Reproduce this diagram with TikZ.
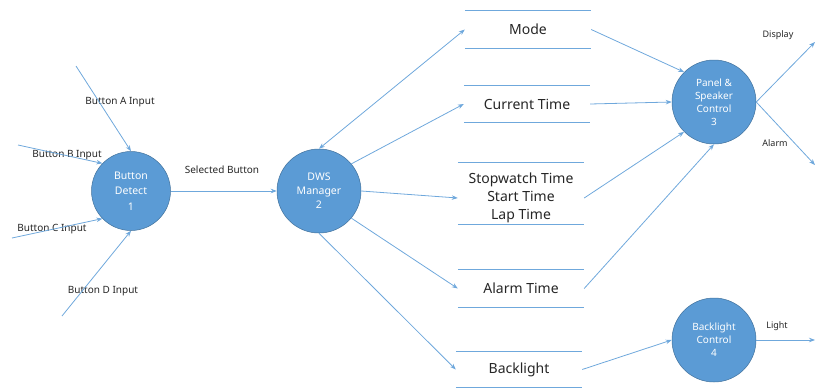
\documentclass[tikz,border=0pt]{standalone}
\usepackage{fontspec}
\setmainfont{Noto Sans}
\usepackage{tikz}
\usetikzlibrary{arrows.meta,positioning}
\definecolor{dfdblue}{HTML}{5B9BD5}
\definecolor{dfdrim}{HTML}{41719C}
\definecolor{dfdline}{HTML}{6FA8DC}

\begin{document}
\begin{tikzpicture}[x=1pt, y=-1pt, >={Stealth[length=6pt,width=4.5pt]}]
   \useasboundingbox (0,0) rectangle (815,389);
   % free ends of the flows
   \coordinate (inA) at (76,66);
   \coordinate (inB) at (18,145);
   \coordinate (inC) at (12,238);
   \coordinate (inD) at (62,316);
   \coordinate (outDisp) at (815,42);
   \coordinate (outAlarm) at (815,165);
   \coordinate (outLight) at (815,340);
   % processes
   \begin{scope}[every node/.style={circle,fill=dfdblue,draw=dfdrim,line width=0.5pt,text=white,align=center,inner sep=0pt,font=\fontsize{10}{13}\selectfont}]
    \node[minimum size=79pt,font=\fontsize{10.5}{15.5}\selectfont] (detect) at (131,191) {Button\\Detect\\1};
    \node[minimum size=84pt,font=\fontsize{10.5}{14}\selectfont] (dws) at (319,191) {DWS\\Manager\\2};
    \node[minimum size=84pt] (panel) at (714,102) {Panel \&\\Speaker\\Control\\3};
    \node[minimum size=84pt] (blc) at (714,340) {Backlight\\Control\\4};
   \end{scope}
   % data stores
   \begin{scope}[every node/.style={minimum width=126pt,inner sep=0pt,align=center,text=black!85,font=\fontsize{14}{18}\selectfont}]
    \node[minimum height=37pt] (mode) at (528,29.5) {Mode};
    \node[minimum height=37pt] (cur) at (527,104) {Current Time};
    \node[minimum height=61pt] (stop) at (521,198) {Stopwatch Time\\Start Time\\Lap Time};
    \node[minimum height=37pt] (alarm) at (521,288.5) {Alarm Time};
    \node[minimum height=35pt] (blt) at (519,369.5) {Backlight};
   \end{scope}
   \foreach \s in {mode,cur,alarm,blt} {
    \draw[dfdline, line width=0.8pt] (\s.north west) -- (\s.north east);
    \draw[dfdline, line width=0.8pt] (\s.south west) -- (\s.south east);
   }
   \draw[dfdline, line width=0.8pt] ([yshift=4.5pt]stop.north west) -- ([yshift=4.5pt]stop.north east);
   \draw[dfdline, line width=0.8pt] ([yshift=4.5pt]stop.south west) -- ([yshift=4.5pt]stop.south east);
   % flow labels
   \begin{scope}[every node/.style={text=black!85,font=\fontsize{10}{12}\selectfont}]
    \node (labA) at (120,102) {Button A Input};
    \node (labB) at (67,155) {Button B Input};
    \node (labC) at (52,229) {Button C Input};
    \node (labD) at (103,291) {Button D Input};
    \node (labSel) at (222,170) {Selected Button};
    \node[font=\fontsize{9}{11}\selectfont] (labDisp) at (778,35) {Display};
    \node[font=\fontsize{9}{11}\selectfont] (labAlarm) at (775,143) {Alarm};
    \node[font=\fontsize{9}{11}\selectfont] (labLight) at (777,326) {Light};
   \end{scope}
   \begin{scope}[every edge/.style={draw=dfdline,line width=0.8pt}]
    \draw (inA) edge[->] (detect.90);
    \draw (inB) edge[->] (detect.136);
    \draw (inC) edge[->] (detect.224);
    \draw (inD) edge[->] (detect.270);
    \draw (detect) edge[->] (dws);
    \draw (dws.90) edge[<->] (mode.west);
    \draw (dws.40) edge[->] (cur.west);
    \draw (dws.0) edge[->] (stop.west);
    \draw (dws.-40) edge[->] (alarm.west);
    \draw (dws.-90) edge[->] (blt.west);
    \draw (mode.east) edge[->] (panel.135);
    \draw (cur.east) edge[->] (panel.180);
    \draw (stop.east) edge[->] (panel.225);
    \draw (alarm.east) edge[->] (panel.270);
    \draw (blt.east) edge[->] (blc.180);
    \draw (panel.east) edge[->] (outDisp);
    \draw (panel.east) edge[->] (outAlarm);
    \draw (blc.east) edge[->] (outLight);
   \end{scope}
\end{tikzpicture}
\end{document}
